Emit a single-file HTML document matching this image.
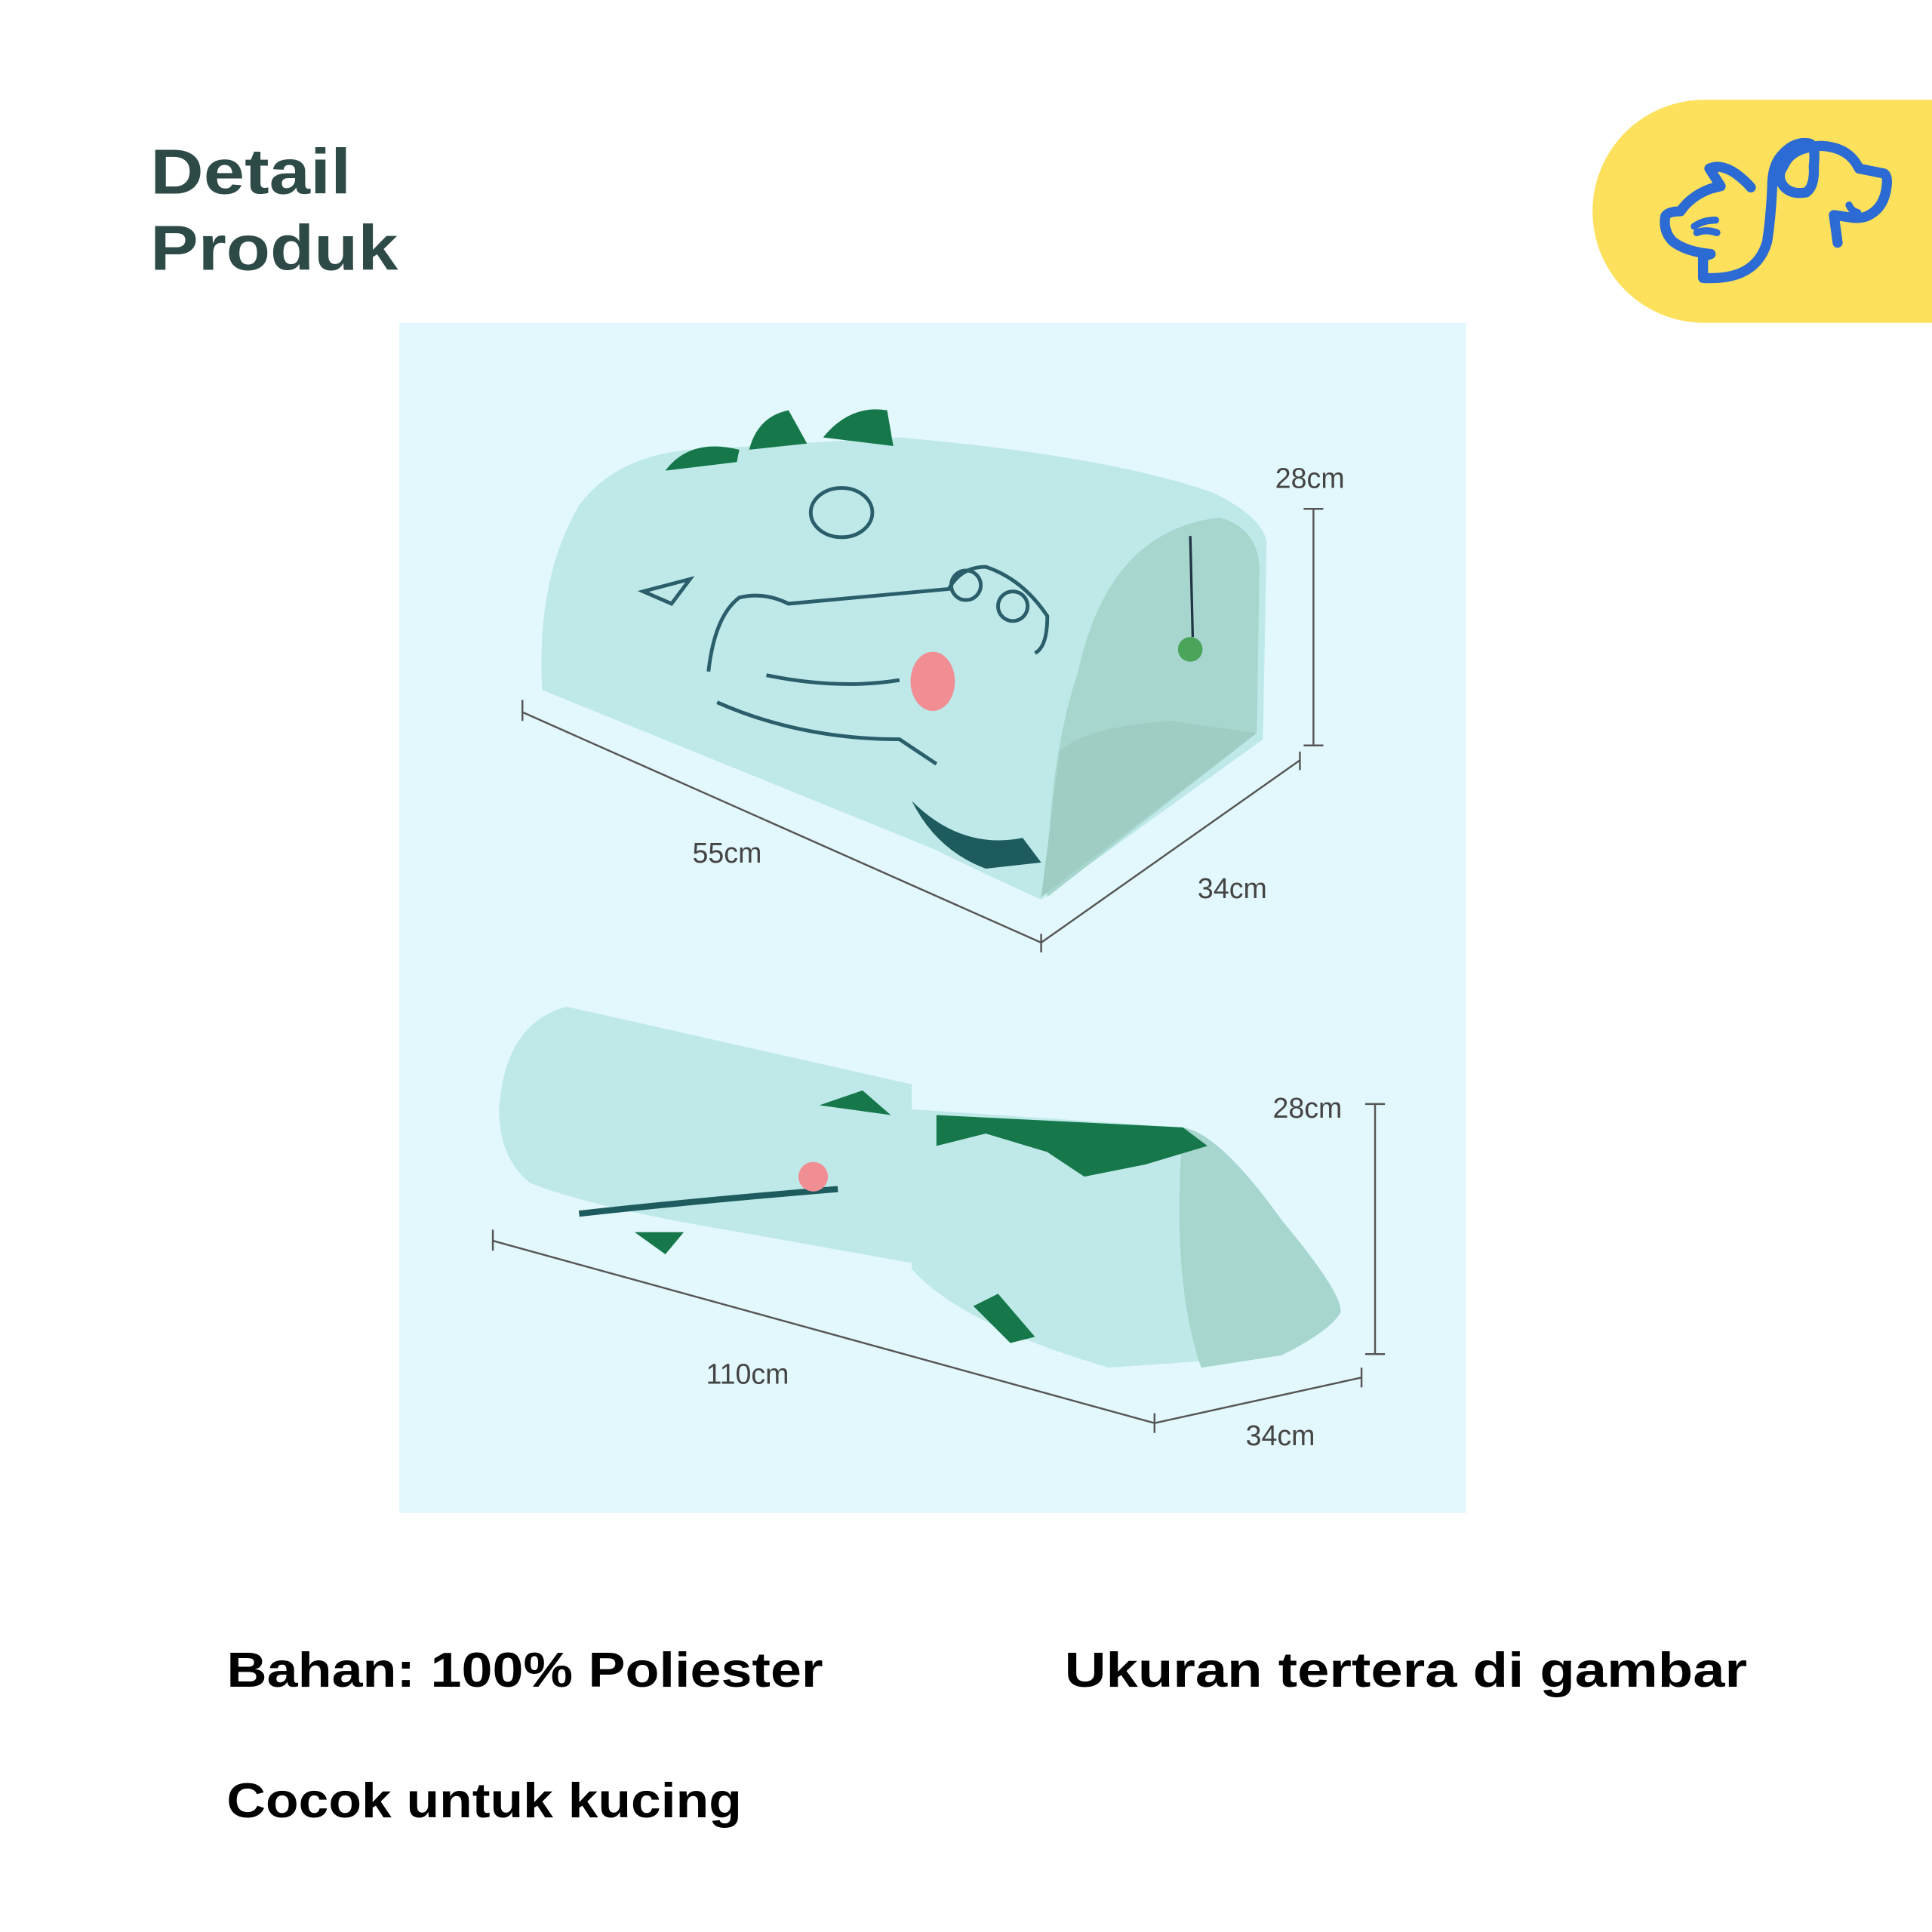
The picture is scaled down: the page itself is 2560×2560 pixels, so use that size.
<!DOCTYPE html>
<html><head><style>html,body{margin:0;padding:0;background:#fff}svg{display:block}</style></head>
<body>
<svg width="2560" height="2560" viewBox="0 0 1568 1568" xmlns="http://www.w3.org/2000/svg">
<rect width="1568" height="1568" fill="#fff"/>
<text x="122" y="157" font-family="Liberation Sans, sans-serif" font-weight="bold" font-size="52" fill="#2d4a47" textLength="163" lengthAdjust="spacingAndGlyphs">Detail</text>
<text x="122" y="219" font-family="Liberation Sans, sans-serif" font-weight="bold" font-size="52" fill="#2d4a47" textLength="201" lengthAdjust="spacingAndGlyphs">Produk</text>
<path d="M1383 81 H1568 V262 H1383 A90.5 90.5 0 0 1 1383 81 Z" fill="#fde05c"/>
<g transform="scale(0.6125) translate(2100,120) scale(0.3333)" fill="none" stroke="#2b6bd3" stroke-width="40" stroke-linecap="round" stroke-linejoin="round">
<path d="M500 650 L470 660 L470 745 Q560 750 620 725 Q700 690 725 600 Q740 500 745 380 Q745 300 780 260 Q830 200 890 210 Q920 215 910 300 Q915 380 880 405 Q820 415 790 380 Q760 340 790 300 Q820 225 940 220 Q1050 225 1090 310 L1190 330 Q1205 340 1200 380 Q1190 470 1120 500 Q1090 510 1060 505 L990 495 L1005 605"/>
<path d="M500 650 Q400 640 350 600 Q310 560 320 500 Q330 480 380 480 Q420 420 500 390 L540 380 L495 310 Q540 290 600 330 Q640 360 660 385"/>
<path d="M435 540 Q470 515 520 515 M445 565 Q480 550 525 565" stroke-width="28"/>
<path d="M1050 455 Q1060 480 1085 485" stroke-width="28"/>
</g>
<rect x="324" y="262" width="866" height="966" fill="#e3f8fc"/>
<!-- top tunnel -->
<path d="M440 560 Q435 470 470 410 Q500 370 560 365 L730 355 Q900 370 985 400 Q1025 420 1028 440 L1025 600 L845 730 Q800 710 760 690 L440 560 Z" fill="#bfe9e9"/>
<path d="M875 545 Q900 430 990 420 Q1025 430 1022 470 L1020 595 L850 728 Q850 620 875 545 Z" fill="#a6d6cd"/>
<path d="M845 728 L1020 595 L950 585 Q880 590 860 610 Z" fill="#9fcdc4"/>
<path d="M540 382 Q560 355 600 365 L598 375 Z M608 365 Q615 338 640 333 L655 360 Z M668 355 Q690 328 720 333 L725 362 Z" fill="#16784a"/>
<circle cx="966" cy="527" r="10" fill="#4aa45a"/>
<line x1="966" y1="435" x2="968" y2="517" stroke="#234" stroke-width="2"/>
<g fill="none" stroke="#2a5e6b" stroke-width="3">
<path d="M575 545 Q580 500 600 485 Q620 480 640 490 L770 478 Q780 460 800 460 Q830 470 850 500 Q850 525 840 530"/>
<path d="M622 548 Q680 560 730 552"/><path d="M582 570 Q650 600 730 600 L760 620"/>
<circle cx="784" cy="475" r="12"/><circle cx="822" cy="492" r="12"/>
<ellipse cx="683" cy="416" rx="25" ry="20"/>
<path d="M522 480 L560 470 L545 490 Z"/>
</g>
<ellipse cx="757" cy="553" rx="18" ry="24" fill="#f08e94"/>
<path d="M740 650 Q780 690 830 680 L845 700 L800 705 Q760 690 740 650 Z" fill="#1d5b5f"/>
<!-- bottom tunnel -->
<path d="M405 900 Q410 830 460 817 L740 880 L740 1025 L600 1000 Q480 980 430 960 Q405 940 405 900 Z" fill="#bfe9e9"/>
<path d="M735 900 L960 915 Q990 920 1040 990 Q1090 1050 1088 1065 Q1080 1080 1040 1100 L900 1110 Q780 1075 740 1030 Z" fill="#bfe9e9"/>
<path d="M960 915 Q990 920 1040 990 Q1090 1050 1088 1065 Q1080 1080 1040 1100 L975 1110 Q950 1040 960 915 Z" fill="#a6d6cd"/>
<path d="M760 930 L800 920 L850 935 L880 955 L930 945 L980 930 L960 915 L760 905 Z" fill="#16784a"/>
<path d="M790 1060 L810 1050 L840 1085 L820 1090 Z M665 897 L700 885 L723 905 Z M515 1000 L555 1000 L540 1018 Z" fill="#16784a"/>
<path d="M470 985 Q560 975 680 965" stroke="#1d5b5f" stroke-width="5" fill="none"/>
<circle cx="660" cy="955" r="12" fill="#f08e94"/>
<!-- dimension lines -->
<g stroke="#555" stroke-width="1.5" fill="none">
<path d="M424 578 L845 765 M424 568 V585 M845 758 V773"/>
<path d="M845 765 L1055 617 M1055 610 V625"/>
<path d="M1066 413 V605 M1058 413 H1074 M1058 605 H1074"/>
<path d="M400 1007 L937 1155 M400 998 V1015 M937 1147 V1163"/>
<path d="M937 1155 L1105 1118 M1105 1110 V1126"/>
<path d="M1116 896 V1099 M1108 896 H1124 M1108 1099 H1124"/>
</g>
<g font-family="Liberation Sans, sans-serif" font-size="23" fill="#444">
<text x="1035" y="396">28cm</text>
<text x="562" y="700">55cm</text>
<text x="972" y="729">34cm</text>
<text x="1033" y="907">28cm</text>
<text x="573" y="1123">110cm</text>
<text x="1011" y="1173">34cm</text>
</g>
<g font-family="Liberation Sans, sans-serif" font-weight="bold" font-size="40" fill="#000">
<text x="184" y="1369" textLength="484" lengthAdjust="spacingAndGlyphs">Bahan: 100% Poliester</text>
<text x="864" y="1369" textLength="554" lengthAdjust="spacingAndGlyphs">Ukuran tertera di gambar</text>
<text x="184" y="1475" textLength="418" lengthAdjust="spacingAndGlyphs">Cocok untuk kucing</text>
</g>
</svg>
</body></html>
